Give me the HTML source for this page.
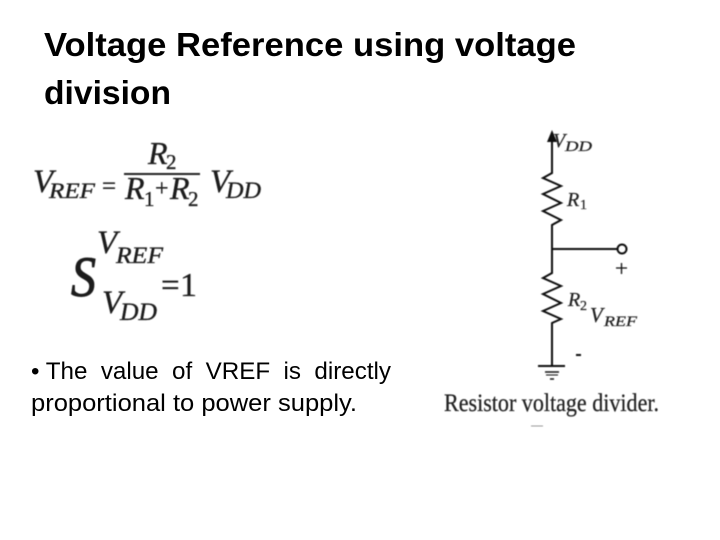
<!DOCTYPE html>
<html><head><meta charset="utf-8"><style>
html,body{margin:0;padding:0;background:#fff;width:720px;height:540px;overflow:hidden}
svg{display:block}
.t{font-family:"Liberation Sans",sans-serif;fill:#000}
.s{font-family:"Liberation Serif",serif;fill:#1c1c1c;stroke:#1c1c1c;stroke-width:.35}
.c{font-family:"Liberation Serif",serif;fill:#222;stroke:#222;stroke-width:.25}
.i{font-style:italic}
</style></head><body>
<svg width="720" height="540" viewBox="0 0 720 540" xmlns="http://www.w3.org/2000/svg">
<defs><filter id="b" x="-5%" y="-5%" width="110%" height="110%"><feGaussianBlur stdDeviation="0.5"/></filter></defs>
<text class="t" x="44" y="56" font-size="33" font-weight="bold" textLength="532" lengthAdjust="spacingAndGlyphs">Voltage Reference using voltage</text>
<text class="t" x="44" y="104" font-size="33" font-weight="bold" textLength="127" lengthAdjust="spacingAndGlyphs">division</text>
<text class="t" x="31" y="379" font-size="24" xml:space="preserve" textLength="360" lengthAdjust="spacingAndGlyphs">• The  value  of  VREF  is  directly</text>
<text class="t" x="31" y="411" font-size="24" textLength="326" lengthAdjust="spacingAndGlyphs">proportional to power supply.</text>
<g filter="url(#b)">
<g class="s i">
<text x="33" y="192" font-size="33">V</text>
<text x="49" y="198" font-size="22" textLength="46" lengthAdjust="spacingAndGlyphs">REF</text>
<text x="148" y="164" font-size="32">R</text>
<text x="125" y="199" font-size="32">R</text>
<text x="170" y="199" font-size="32">R</text>
<text x="210" y="192" font-size="33">V</text>
<text x="226" y="198" font-size="23" textLength="35" lengthAdjust="spacingAndGlyphs">DD</text>
<text x="71" y="296" font-size="57" stroke-width="1" textLength="25" lengthAdjust="spacingAndGlyphs">S</text>
<text x="97" y="253" font-size="33">V</text>
<text x="116" y="263" font-size="23" textLength="47" lengthAdjust="spacingAndGlyphs">REF</text>
<text x="102" y="313" font-size="33">V</text>
<text x="120" y="320" font-size="25" textLength="37" lengthAdjust="spacingAndGlyphs">DD</text>
</g>
<g class="s">
<text x="102" y="194" font-size="25">=</text>
<text x="166" y="169" font-size="21">2</text>
<text x="144" y="206" font-size="21">1</text>
<text x="155" y="196" font-size="24">+</text>
<text x="188" y="206" font-size="21">2</text>
<text x="161" y="296" font-size="33">=</text>
<text x="180" y="296" font-size="34">1</text>
</g>
<rect x="124" y="173" width="76" height="2" fill="#222"/>
<g fill="none" stroke="#111" stroke-width="2">
<path d="M552 138V173L543 178L561 186L543 194L561 203L543 211L561 220L552 225V273L543 278L561 286L543 294L561 303L543 311L561 319L552 323V366"/>
<path d="M552 249H617"/>
<circle cx="622" cy="249" r="4.500"/>
<path d="M616 268H627M621.500 263V274" stroke-width="1.300"/>
<path d="M538 366H565"/>
<path d="M545 372H559" stroke-width="1.500"/>
<path d="M546 375H558" stroke-width="1"/>
<path d="M550 379H554" stroke-width="1.500"/>
<path d="M576 355H581" stroke-width="2"/>
<path d="M531 426H543" stroke="#999" stroke-width="1"/>
</g>
<path d="M552 130L557 142H547Z" fill="#111"/>
<g class="c i">
<text x="553" y="147" font-size="20">V</text>
<text x="565" y="151" font-size="15" textLength="27" lengthAdjust="spacingAndGlyphs">DD</text>
<text x="567" y="206" font-size="20">R</text>
<text x="568" y="306" font-size="20">R</text>
<text x="590" y="322" font-size="21">V</text>
<text x="604" y="326" font-size="15" textLength="33" lengthAdjust="spacingAndGlyphs">REF</text>
</g>
<g class="c">
<text x="580" y="209" font-size="14">1</text>
<text x="580" y="310" font-size="14">2</text>
<text x="444" y="411" font-size="25" textLength="215" lengthAdjust="spacingAndGlyphs">Resistor voltage divider.</text>
</g>
</g>
</svg>
</body></html>
